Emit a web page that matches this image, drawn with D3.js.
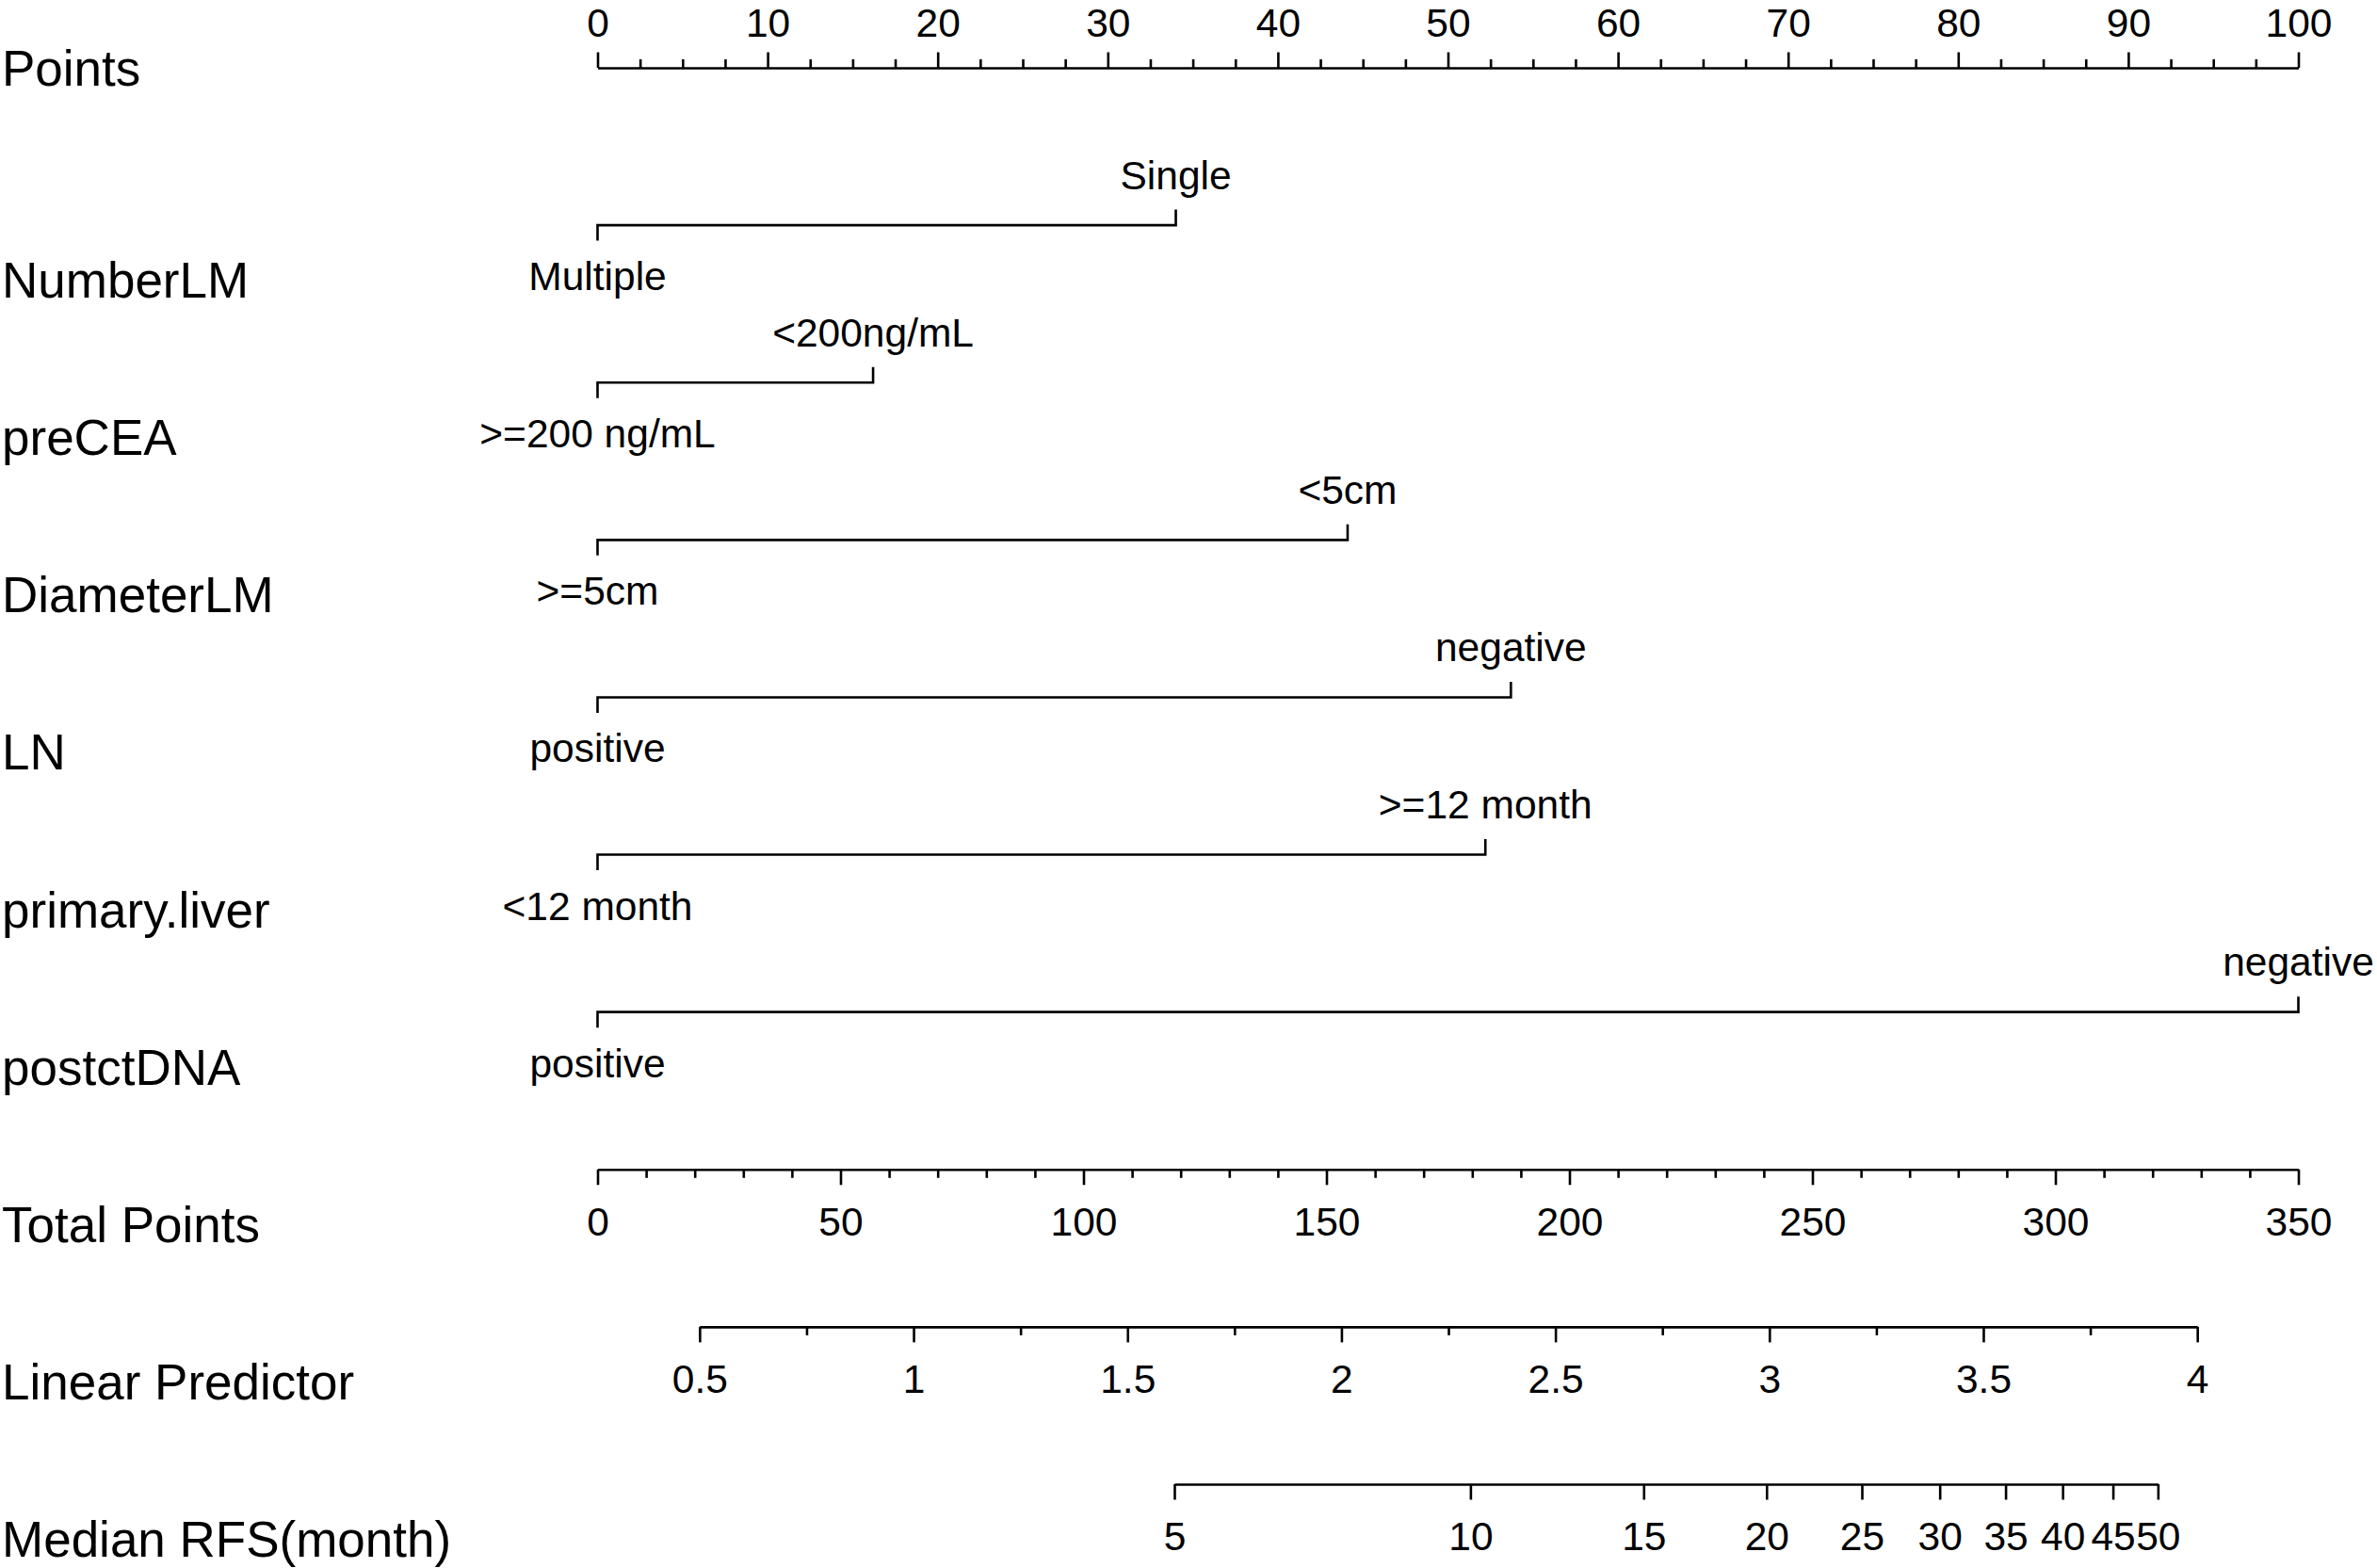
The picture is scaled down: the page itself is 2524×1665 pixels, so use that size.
<!DOCTYPE html>
<html>
<head>
<meta charset="utf-8">
<script src="https://cdn.jsdelivr.net/npm/d3@7"></script>
<style>
  body { margin: 0; background: #fff; }
  svg text { font-family: "Liberation Sans", Arial, Helvetica, sans-serif; fill: #000; }
</style>
</head>
<body>
<svg id="nomogram" width="2524" height="1665"></svg>
<script>
// nomogram rows, top to bottom
let rowLabels = ["Points", "NumberLM", "preCEA", "DiameterLM", "LN", "primary.liver",
                 "postctDNA", "Total Points", "Linear Predictor", "Median RFS(month)"];

// categorical predictors: level drawn below (0 points) and level drawn above
let variables   = ["NumberLM", "preCEA", "DiameterLM", "LN", "primary.liver", "postctDNA"];
let lowLevels   = ["Multiple", ">=200 ng/mL", ">=5cm", "positive", "<12 month", "positive"];
let lowPoints   = [0, 0, 0, 0, 0, 0];
let highLevels  = ["Single", "<200ng/mL", "<5cm", "negative", ">=12 month", "negative"];
let highPoints  = [34.0, 16.2, 44.1, 53.7, 52.2, 100];

// axis ticks
let pointsTicks = [0, 10, 20, 30, 40, 50, 60, 70, 80, 90, 100];
let pointsMinorStep = 2.5;
let totalTicks  = [0, 50, 100, 150, 200, 250, 300, 350];
let totalMinorStep = 10;
let lpTicks     = [0.5, 1, 1.5, 2, 2.5, 3, 3.5, 4];
let lpMinorStep = 0.25;
let rfsTicks    = [5, 10, 15, 20, 25, 30, 35, 40, 45, 50];

// where the end of each lower axis sits on the total points scale
let lpRange     = [0.5, 4];
let lpTotal     = [21.0, 329.2];
let rfsRange    = [5, 50];
let rfsTotal    = [118.7, 321.1];

let drawNomogram = function() {
  let svg = d3.select("#nomogram");

  let big = 53;     // variable names
  let small = 42.5; // tick and level labels
  let majorLen = 16.5, minorLen = 9;
  let lw = 2.6;

  let row = d3.scaleLinear().domain([0, rowLabels.length - 1]).range([72, 1576]);

  let pointsX = d3.scaleLinear().domain([0, 100]).range([634.5, 2440.5]);
  let totalX  = d3.scaleLinear().domain([0, 350]).range([634.5, 2440.5]);
  let lpX  = d3.scaleLinear().domain(lpRange).range(lpTotal.map(totalX));
  let rfsX = d3.scaleLog().domain(rfsRange).range(rfsTotal.map(totalX));

  // row labels on the left
  svg.append("g").selectAll("text")
    .data(rowLabels)
    .join("text")
      .attr("x", 2)
      .attr("y", (d, i) => i == 0 ? row(0) + 19 : row(i) + 77)
      .attr("font-size", big)
      .text(d => d);

  // helper to draw one axis with major (labelled) and minor ticks
  let drawAxis = function(scale, y, ticks, minor, top) {
    let g = svg.append("g").attr("transform", "translate(0," + y + ")");
    let make = top ? d3.axisTop : d3.axisBottom;
    if (minor.length) {
      let mg = g.append("g");
      mg.call(make(scale).tickValues(minor).tickSize(minorLen).tickSizeOuter(0).tickFormat(""));
      mg.select(".domain").remove();
    }
    let ax = make(scale).tickValues(ticks).tickSize(majorLen).tickSizeOuter(0)
      .tickPadding(top ? 33 - majorLen : 39.8 - majorLen)
      .tickFormat(d => d);
    let mj = g.append("g").call(ax);
    mj.attr("font-family", null).attr("font-size", small);
    g.selectAll("path, line").attr("stroke", "#000").attr("stroke-width", lw);
    return g;
  };

  let minorOf = (lo, hi, step, major) =>
    d3.range(lo, hi + step / 2, step).filter(v => !major.some(m => Math.abs(m - v) < 1e-9));

  // Points axis (ticks up, labels above)
  drawAxis(pointsX, row(0), pointsTicks, minorOf(0, 100, pointsMinorStep, pointsTicks), true);

  // predictor segments
  let seg = svg.append("g");
  variables.forEach((v, i) => {
    let y = row(i + 1);
    let x0 = pointsX(lowPoints[i]), x1 = pointsX(highPoints[i]);
    seg.append("path")
      .attr("d", "M" + x0 + "," + (y + majorLen) + "V" + y + "H" + x1 + "V" + (y - majorLen))
      .attr("fill", "none")
      .attr("stroke", "#000")
      .attr("stroke-width", lw);
    seg.append("text")
      .attr("x", x1).attr("y", y - 38.5)
      .attr("text-anchor", "middle")
      .attr("font-size", small)
      .text(highLevels[i]);
    seg.append("text")
      .attr("x", x0).attr("y", y + 69)
      .attr("text-anchor", "middle")
      .attr("font-size", small)
      .text(lowLevels[i]);
  });

  // Total Points, Linear Predictor, Median RFS
  drawAxis(totalX, row(7), totalTicks, minorOf(0, 350, totalMinorStep, totalTicks), false);
  drawAxis(lpX, row(8), lpTicks, minorOf(0.5, 4, lpMinorStep, lpTicks), false);
  drawAxis(rfsX, row(9), rfsTicks, [], false);
};

drawNomogram();
</script>
</body>
</html>
